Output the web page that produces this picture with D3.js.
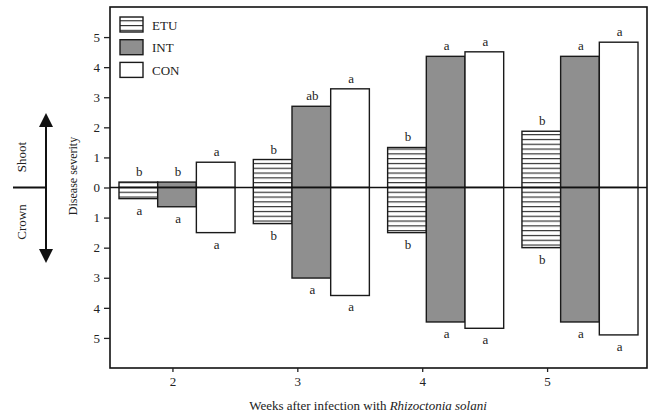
<!DOCTYPE html>
<html>
<head>
<meta charset="utf-8">
<script src="https://cdn.jsdelivr.net/npm/d3@7"></script>
<style>
  body { margin: 0; background: #fff; }
  svg { display: block; font-family: "Liberation Serif", "Times New Roman", serif; }
</style>
</head>
<body>
<svg width="649" height="416"></svg>
<script>
// weeks after infection
var weeks = [2, 3, 4, 5];
var treatments = ['ETU', 'INT', 'CON'];

// shoot severity (upwards) and crown severity (downwards)
var shootETU = [0.18, 0.93, 1.33, 1.87];
var shootINT = [0.18, 2.70, 4.36, 4.36];
var shootCON = [0.84, 3.28, 4.51, 4.83];
var crownETU = [0.37, 1.20, 1.50, 2.00];
var crownINT = [0.64, 3.01, 4.47, 4.47];
var crownCON = [1.50, 3.59, 4.68, 4.90];

// significance letters
var shootLetters = [['b', 'b', 'a'], ['b', 'ab', 'a'], ['b', 'a', 'a'], ['b', 'a', 'a']];
var crownLetters = [['a', 'a', 'a'], ['b', 'a', 'a'], ['b', 'a', 'a'], ['b', 'a', 'a']];

var yTicks = [-5, -4, -3, -2, -1, 0, 1, 2, 3, 4, 5];

(function() {
  var shoot = { ETU: shootETU, INT: shootINT, CON: shootCON };
  var crown = { ETU: crownETU, INT: crownINT, CON: crownCON };

  var bars = [];
  weeks.forEach(function(w, i) {
    treatments.forEach(function(t, j) {
      bars.push({ week: w, treat: t, shoot: shoot[t][i], crown: crown[t][i],
                  sl: shootLetters[i][j], cl: crownLetters[i][j] });
    });
  });

  var pLeft = 110, pRight = 647, pTop = 7, pBottom = 368;
  var svg = d3.select('svg');

  var x = d3.scaleLinear().domain([1.5, 5.8]).range([pLeft, pRight]);
  var xGroup = d3.scaleBand().domain(weeks).range([pLeft, pRight])
    .paddingInner(0.136).paddingOuter(0.067);
  var xSub = d3.scaleBand().domain(treatments).range([0, xGroup.bandwidth()]);
  var y = d3.scaleLinear().domain([6, -6]).range([pTop, pBottom]);

  var defs = svg.append('defs');
  function hatch(id, y0) {
    var pat = defs.append('pattern')
      .attr('id', id)
      .attr('patternUnits', 'userSpaceOnUse')
      .attr('width', 10).attr('height', 4.8)
      .attr('y', y0);
    pat.append('rect').attr('width', 10).attr('height', 4.8).attr('fill', '#fff');
    pat.append('line')
      .attr('x1', 0).attr('x2', 10).attr('y1', 0.6).attr('y2', 0.6)
      .attr('stroke', '#222').attr('stroke-width', 1.1);
  }
  hatch('hatch', y(0) - 0.6);
  hatch('hatchLeg', 17.6);

  var fills = { ETU: 'url(#hatch)', INT: '#8f8f8f', CON: '#fff' };

  // bars
  var g = svg.append('g');
  g.selectAll('.shoot')
    .data(bars).enter()
    .append('rect')
    .attr('x', function(d) { return xGroup(d.week) + xSub(d.treat); })
    .attr('width', xSub.bandwidth())
    .attr('y', function(d) { return y(d.shoot); })
    .attr('height', function(d) { return y(0) - y(d.shoot); })
    .attr('fill', function(d) { return fills[d.treat]; })
    .attr('stroke', '#1a1a1a').attr('stroke-width', 1.4);

  g.selectAll('.crown')
    .data(bars).enter()
    .append('rect')
    .attr('x', function(d) { return xGroup(d.week) + xSub(d.treat); })
    .attr('width', xSub.bandwidth())
    .attr('y', y(0))
    .attr('height', function(d) { return y(-d.crown) - y(0); })
    .attr('fill', function(d) { return fills[d.treat]; })
    .attr('stroke', '#1a1a1a').attr('stroke-width', 1.4);

  // letters
  g.selectAll('.sl')
    .data(bars).enter()
    .append('text')
    .attr('x', function(d) { return xGroup(d.week) + xSub(d.treat) + xSub.bandwidth() / 2 + 1; })
    .attr('y', function(d) { return y(d.shoot) - 6; })
    .attr('text-anchor', 'middle')
    .attr('font-size', 13).attr('fill', '#222')
    .text(function(d) { return d.sl; });

  g.selectAll('.cl')
    .data(bars).enter()
    .append('text')
    .attr('x', function(d) { return xGroup(d.week) + xSub(d.treat) + xSub.bandwidth() / 2 + 1; })
    .attr('y', function(d) { return y(-d.crown) + 16; })
    .attr('text-anchor', 'middle')
    .attr('font-size', 13).attr('fill', '#222')
    .text(function(d) { return d.cl; });

  // zero line
  svg.append('line')
    .attr('x1', pLeft).attr('x2', pRight)
    .attr('y1', y(0)).attr('y2', y(0))
    .attr('stroke', '#111').attr('stroke-width', 1.6);

  // frame
  svg.append('rect')
    .attr('x', pLeft).attr('y', pTop)
    .attr('width', pRight - pLeft).attr('height', pBottom - pTop)
    .attr('fill', 'none').attr('stroke', '#111').attr('stroke-width', 1.6);

  // axes
  var yAxis = svg.append('g')
    .attr('transform', 'translate(' + pLeft + ',0)')
    .call(d3.axisLeft(y).tickValues(yTicks).tickSize(6).tickPadding(4)
      .tickFormat(function(d) { return Math.abs(d); }));
  yAxis.select('.domain').remove();
  yAxis.selectAll('line').attr('stroke', '#222').attr('stroke-width', 1.3);
  yAxis.selectAll('text').attr('font-size', 13).attr('font-family', 'Liberation Serif, serif').attr('fill', '#222');

  var xAxis = svg.append('g')
    .attr('transform', 'translate(0,' + pBottom + ')')
    .call(d3.axisBottom(x).tickValues(weeks).tickSize(4).tickPadding(5)
      .tickFormat(d3.format('d')));
  xAxis.select('.domain').remove();
  xAxis.selectAll('line').attr('stroke', '#222').attr('stroke-width', 1.3);
  xAxis.selectAll('text').attr('font-size', 13).attr('font-family', 'Liberation Serif, serif').attr('fill', '#222');

  // axis titles
  var xt = svg.append('text')
    .attr('x', 368).attr('y', 410)
    .attr('text-anchor', 'middle')
    .attr('font-size', 13).attr('fill', '#222');
  xt.append('tspan').text('Weeks after infection with ');
  xt.append('tspan').attr('font-style', 'italic').text('Rhizoctonia solani');

  svg.append('text')
    .attr('transform', 'translate(77,176) rotate(-90)')
    .attr('text-anchor', 'middle')
    .attr('font-size', 12).attr('fill', '#222')
    .text('Disease severity');

  // shoot / crown indicator
  svg.append('line')
    .attr('x1', 13).attr('x2', 46).attr('y1', y(0)).attr('y2', y(0))
    .attr('stroke', '#111').attr('stroke-width', 2.2);
  svg.append('line')
    .attr('x1', 46).attr('x2', 46).attr('y1', 122).attr('y2', 254)
    .attr('stroke', '#111').attr('stroke-width', 2);
  svg.append('path')
    .attr('d', 'M46,113 L39,127 L53,127 Z').attr('fill', '#111');
  svg.append('path')
    .attr('d', 'M46,263 L39,249 L53,249 Z').attr('fill', '#111');
  svg.append('text')
    .attr('transform', 'translate(26,157) rotate(-90)')
    .attr('text-anchor', 'middle')
    .attr('font-size', 13).attr('fill', '#222')
    .text('Shoot');
  svg.append('text')
    .attr('transform', 'translate(26,222) rotate(-90)')
    .attr('text-anchor', 'middle')
    .attr('font-size', 13).attr('fill', '#222')
    .text('Crown');

  // legend
  var legend = svg.append('g').selectAll('g')
    .data(treatments).enter()
    .append('g')
    .attr('transform', function(d, i) { return 'translate(120,' + (17 + i * 22.7) + ')'; });
  legend.append('rect')
    .attr('width', 23).attr('height', 15)
    .attr('fill', function(d) { return d === 'ETU' ? 'url(#hatchLeg)' : fills[d]; })
    .attr('stroke', '#1a1a1a').attr('stroke-width', 1.4);
  legend.append('text')
    .attr('x', 32).attr('y', 12.5)
    .attr('font-size', 13).attr('fill', '#222')
    .text(function(d) { return d; });
})();
</script>
</body>
</html>
